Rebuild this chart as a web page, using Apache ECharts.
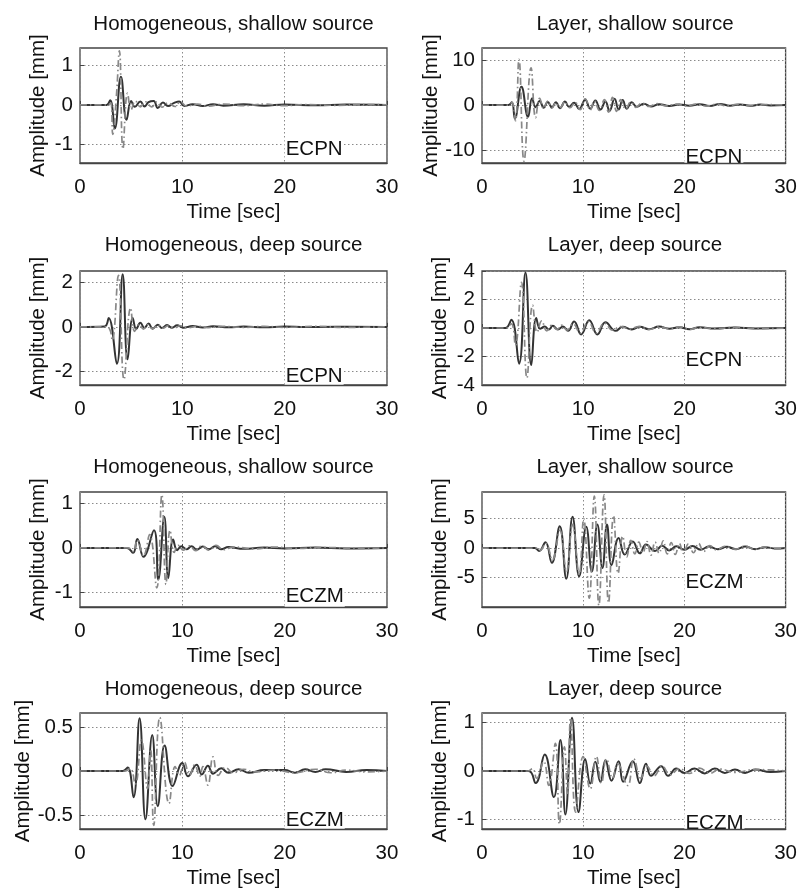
<!DOCTYPE html>
<html><head><meta charset="utf-8">
<script src="https://cdn.jsdelivr.net/npm/echarts@6/dist/echarts.min.js"></script>
<style>html,body{margin:0;padding:0;background:#fff}#c{width:800px;height:890px}</style>
</head><body><div id="c"></div>
<script>
// ---------- data ----------
const titles = [
  'Homogeneous, shallow source', 'Layer, shallow source',
  'Homogeneous, deep source', 'Layer, deep source',
  'Homogeneous, shallow source', 'Layer, shallow source',
  'Homogeneous, deep source', 'Layer, deep source'
];
const stationNames = ['ECPN','ECPN','ECPN','ECPN','ECZM','ECZM','ECZM','ECZM'];
const stationLabelAt = [[20,-1.12],[20,-11.6],[20,-2.2],[20,-2.3],[20,-1.1],[20,-5.9],[20,-0.56],[20,-1.08]];
const yMins = [-1.48, -12.9, -2.6, -4, -1.33, -10, -0.66, -1.2];
const yMaxs = [1.45, 12.7, 2.5, 4, 1.26, 9.5, 0.66, 1.2];
const yTickValues = [[-1,0,1],[-10,0,10],[-2,0,2],[-4,-2,0,2,4],[-1,0,1],[-5,0,5],[-0.5,0,0.5],[-1,0,1]];

const p1Solid = [[0,0],[2.6,0],[2.95,0.12],[3.4,-0.6],[4.0,0.72],[4.55,-0.38],[5.0,0.1],[5.35,-0.05],[5.9,0.09],[6.3,-0.04],[6.7,0.07],[7.2,0.1],[7.6,-0.08],[8.1,0.06],[8.6,-0.03],[9.2,0.05],[9.7,0.09],[10.2,-0.03],[11,0.02],[12,-0.03],[13,0.02],[14,-0.02],[16,0.02],[18,-0.02],[20,0.01],[23,-0.01],[26,0.01],[30,0]];
const p1Dash = [[0,0],[2.7,0],[3.0,0.05],[3.2,-0.75],[3.55,0.2],[3.85,1.38],[4.2,-1.12],[4.65,0.3],[5.0,-0.12],[5.4,0.1],[5.9,-0.05],[6.4,0.08],[7.0,-0.05],[7.5,0.08],[8.0,-0.06],[8.6,0.05],[9.3,-0.04],[9.8,0.08],[10.4,-0.03],[11.5,0.02],[12.5,-0.03],[14,0.02],[16,-0.02],[18,0.02],[20,-0.02],[22,0.01],[25,-0.01],[28,0.01],[30,0]];

const p2Solid = [[0,0],[2.6,0],[2.95,0.6],[3.25,-3.0],[3.9,4.1],[4.55,-2.6],[4.95,1.5],[5.3,-0.5],[5.7,0.9],[6.1,-0.6],[6.5,0.7],[6.9,-0.5],[7.3,0.6],[7.7,-0.7],[8.2,0.8],[8.6,-0.4],[9.1,0.5],[9.6,-0.9],[10.2,1.2],[10.7,-0.8],[11.2,1.0],[11.7,-1.0],[12.2,0.8],[12.6,-1.3],[13.1,1.4],[13.5,-1.0],[13.9,1.1],[14.3,-0.8],[14.8,0.6],[15.3,-0.4],[16,0.3],[16.7,-0.3],[17.5,0.2],[18.5,-0.2],[19.5,0.15],[20.5,-0.15],[21.5,0.2],[22.5,-0.2],[23.5,0.25],[24.5,-0.15],[25.5,0.15],[26.5,-0.15],[27.5,0.1],[28.5,-0.1],[30,0]];
const p2Dash = [[0,0],[2.6,0],[2.95,0.6],[3.3,-3.5],[3.65,10.2],[4.15,-12.5],[4.85,8.3],[5.3,-2.8],[5.7,1.5],[6.1,-0.8],[6.5,0.9],[6.9,-0.7],[7.3,0.5],[7.7,-0.6],[8.2,0.7],[8.7,-0.6],[9.2,0.6],[9.7,-1.0],[10.2,1.4],[10.7,-1.1],[11.1,0.9],[11.6,-1.2],[12.1,1.2],[12.5,-1.6],[12.9,1.7],[13.3,-1.4],[13.7,1.2],[14.2,-0.9],[14.7,0.7],[15.2,-0.5],[15.8,0.4],[16.5,-0.3],[17.3,0.3],[18.2,-0.2],[19.2,0.2],[20.2,-0.2],[21.2,0.2],[22.2,-0.25],[23.2,0.2],[24.2,-0.2],[25.2,0.15],[26.5,-0.1],[28,0.1],[30,0]];

const p3Solid = [[0,0],[2.4,0.02],[2.8,0.4],[3.6,-1.65],[4.17,2.35],[4.65,-1.45],[5.15,0.4],[5.5,-0.1],[5.9,0.18],[6.3,-0.05],[6.7,0.15],[7.1,-0.08],[7.6,0.1],[8.0,-0.05],[8.5,0.08],[9.0,-0.04],[9.5,0.07],[10.1,-0.04],[11,0.04],[12,-0.03],[13,0.03],[14.5,-0.02],[16,0.02],[18,-0.02],[20,0.02],[22,-0.01],[25,0.01],[30,0]];
const p3Dash = [[0,0],[2.5,0],[2.9,-0.1],[3.15,-0.6],[3.75,2.3],[4.3,-2.35],[4.95,0.85],[5.35,-0.2],[5.8,0.12],[6.2,-0.1],[6.6,0.1],[7.1,-0.08],[7.6,0.08],[8.1,-0.06],[8.6,0.05],[9.2,-0.05],[9.8,0.05],[10.5,-0.04],[11.5,0.03],[12.5,-0.03],[14,0.02],[16,-0.02],[18,0.02],[20,-0.02],[23,0.02],[26,-0.02],[30,0]];

const p4Solid = [[0,0],[2.3,0],[2.9,0.58],[3.66,-2.5],[4.3,3.9],[4.87,-2.6],[5.36,0.7],[5.75,-0.05],[6.2,0.1],[6.6,-0.1],[7.0,0.15],[7.5,-0.1],[8.0,0.1],[8.5,-0.2],[9.1,0.45],[9.8,-0.45],[10.6,0.55],[11.4,-0.45],[12.2,0.4],[13.2,-0.2],[13.9,0.08],[14.8,-0.1],[15.6,0.08],[16.5,-0.08],[17.5,0.1],[18.5,-0.05],[19.5,0.05],[20.5,-0.08],[21.5,0.05],[23,-0.04],[25,0.03],[27,-0.03],[30,0]];
const p4Dash = [[0,0],[2.4,0],[2.9,0.3],[3.3,-1.2],[3.9,3.2],[4.44,-3.5],[5.0,1.6],[5.45,-0.3],[5.9,0.5],[6.4,-0.2],[6.9,0.2],[7.4,-0.1],[7.9,0.2],[8.4,-0.15],[9.0,0.3],[9.7,-0.35],[10.5,0.45],[11.3,-0.35],[12.1,0.35],[12.9,-0.15],[13.7,0.1],[14.6,-0.08],[15.5,0.1],[16.5,-0.1],[17.5,0.08],[18.5,-0.05],[19.5,0.08],[20.5,-0.1],[21.5,0.05],[23,-0.05],[25,0.04],[27,-0.04],[30,0]];

const p5Solid = [[0,0],[4.6,0],[5.2,-0.11],[5.6,0.2],[6.2,-0.2],[7.23,0.4],[7.65,-0.71],[8.24,0.7],[8.63,-0.68],[9.1,0.19],[9.5,-0.05],[9.9,0.04],[10.4,-0.03],[10.9,0.04],[11.4,-0.04],[12,0.03],[12.6,-0.03],[13.2,0.04],[13.8,-0.03],[14.5,0.02],[16,-0.02],[18,0.01],[20,-0.01],[23,0.01],[26,-0.01],[30,0]];
const p5Dash = [[0,0],[4.7,0],[5.2,-0.08],[5.6,0.18],[6.2,-0.18],[6.8,0.3],[7.5,-0.9],[8.0,1.2],[8.4,-0.82],[8.8,0.4],[9.2,-0.1],[9.6,0.06],[10.1,-0.05],[10.7,0.05],[11.3,-0.06],[11.9,0.05],[12.6,-0.05],[13.3,0.06],[14,-0.04],[15,0.02],[17,-0.02],[19,0.02],[21,-0.01],[24,0.01],[27,-0.01],[30,0]];

const p6Solid = [[0,0],[5.2,0],[5.65,-0.5],[6.27,1.0],[6.9,-2.5],[7.68,3.7],[8.33,-5.2],[8.95,5.3],[9.6,-4.8],[10.3,3.6],[10.85,-4.0],[11.4,4.0],[11.9,-3.4],[12.35,4.0],[12.8,-2.9],[13.5,1.7],[14.1,-1.1],[14.9,1.1],[15.6,-0.9],[16.2,0.6],[17.1,-0.5],[17.8,0.4],[18.5,-0.4],[19.2,0.3],[20,-0.3],[20.8,0.35],[21.6,-0.3],[22.4,0.25],[23.3,-0.2],[24.2,0.2],[25.1,-0.2],[26,0.25],[27,-0.2],[28,0.15],[29,-0.1],[30,0]];
const p6Dash = [[0,0],[5.3,0],[5.7,-0.4],[6.3,0.8],[6.95,-2.0],[7.7,3.0],[8.35,-4.0],[8.95,4.0],[9.6,-4.5],[10.05,5.0],[10.6,-8.5],[11.1,8.8],[11.55,-9.7],[12.06,9.0],[12.5,-9.3],[13.0,5.5],[13.45,-4.3],[13.9,2.0],[14.3,-1.5],[14.7,1.3],[15.1,-1.0],[15.5,1.0],[15.9,-0.8],[16.3,1.1],[16.7,-1.2],[17.1,1.0],[17.5,-0.9],[17.9,1.2],[18.3,-1.0],[18.7,0.9],[19.1,-1.1],[19.5,0.8],[19.9,-0.9],[20.4,0.7],[20.9,-0.8],[21.4,0.8],[21.9,-0.6],[22.5,0.4],[23.2,-0.3],[24,0.3],[25,-0.2],[26,0.3],[27,-0.2],[28,0.2],[29,-0.15],[30,0]];

const p7Solid = [[0,0],[4.2,0],[4.67,0.04],[5.23,-0.3],[5.82,0.6],[6.4,-0.55],[7.06,0.41],[7.6,-0.4],[8.27,0.29],[9.05,-0.17],[10.0,0.09],[10.55,-0.06],[11.4,0.07],[11.9,-0.04],[12.5,0.06],[13.0,-0.03],[13.8,0.03],[14.5,-0.02],[15.5,0.02],[16.5,-0.02],[18,0.01],[20,0.01],[21,-0.02],[22,0.02],[23,-0.01],[24,0.02],[26,-0.01],[28,0.01],[30,0]];
const p7Dash = [[0,0],[4.4,0],[4.9,0.03],[5.4,-0.15],[6.0,0.35],[6.6,-0.2],[6.9,0.25],[7.2,-0.62],[7.8,0.61],[8.7,-0.37],[9.3,0.05],[9.7,-0.05],[10.2,0.1],[10.7,-0.05],[11.2,0.07],[11.7,-0.06],[12.0,0.05],[12.5,-0.16],[13.0,0.16],[13.5,-0.05],[14.2,0.04],[15,-0.02],[16,0.02],[17,-0.01],[19,0.01],[21,-0.02],[23,0.02],[24.5,-0.02],[26,0.01],[28,-0.01],[30,0]];

const p8Solid = [[0,0],[4.6,0],[5.3,-0.25],[6.2,0.34],[7.1,-0.54],[7.75,0.64],[8.24,-0.9],[8.9,1.1],[9.54,-0.85],[10.2,0.25],[10.7,-0.26],[11.2,0.19],[11.7,-0.23],[12.2,0.22],[12.8,-0.2],[13.5,0.2],[13.95,-0.22],[14.9,0.2],[15.6,-0.25],[16.2,0.15],[16.7,-0.1],[17.7,0.1],[18.4,-0.1],[19.2,0.05],[20,-0.04],[21,0.05],[22,-0.05],[23,0.05],[24,-0.04],[25,0.03],[26,-0.04],[27,0.03],[28.5,-0.02],[30,0]];
const p8Dash = [[0,0],[4.5,0],[5.0,0.05],[5.4,-0.15],[6.1,0.2],[6.6,-0.3],[7.25,0.57],[7.65,-1.1],[8.15,0.5],[8.45,-0.5],[8.75,1.1],[9.25,-0.85],[10.0,0.3],[10.7,-0.37],[11.3,0.3],[11.8,-0.25],[12.3,0.25],[12.9,-0.15],[13.4,0.15],[14.4,-0.3],[15.0,0.25],[15.7,-0.15],[16.3,0.1],[17,-0.1],[17.8,0.1],[18.6,-0.08],[19.5,0.05],[20.5,-0.05],[21.5,0.06],[22.5,-0.05],[23.5,0.04],[25,-0.03],[27,0.03],[30,0]];

const solidTraces = [p1Solid,p2Solid,p3Solid,p4Solid,p5Solid,p6Solid,p7Solid,p8Solid];
const dashTraces = [p1Dash,p2Dash,p3Dash,p4Dash,p5Dash,p6Dash,p7Dash,p8Dash];

// ---------- layout ----------
const colLeft = [80, 482];
const colWidth = [307, 306];
const rowTop = [48, 271, 492, 713];
const rowHeight = [115, 114, 115, 116];
const titleTop = [14, 235, 457, 679];
const FONT = "'Liberation Sans', Arial, Helvetica, sans-serif";
const TXT = '#111';
const FS = 20.5;
const FRAME = '#444';

const grid = [], xAxis = [], yAxis = [], series = [], title = [];
for (let i = 0; i < 8; i++) {
  const r = Math.floor(i / 2), c = i % 2;
  grid.push({left: colLeft[c], top: rowTop[r], width: colWidth[c], height: rowHeight[r],
    show: true, borderColor: FRAME, borderWidth: 1.3, backgroundColor: '#fff'});
  title.push({text: titles[i], left: colLeft[c] + colWidth[c] / 2, top: titleTop[r], textAlign: 'center', padding: 0,
    textStyle: {fontFamily: FONT, fontSize: FS, fontWeight: 'normal', color: TXT}});
  yAxis.push({type: 'value', gridIndex: i, min: yMins[i], max: yMaxs[i],
    name: 'Amplitude [mm]', nameLocation: 'middle', nameGap: 31, nameRotate: 90,
    nameTextStyle: {fontFamily: FONT, fontSize: FS, color: TXT},
    axisLine: {show: false},
    axisTick: {show: true, inside: true, length: 4, customValues: yTickValues[i], lineStyle: {color: FRAME}},
    axisLabel: {fontFamily: FONT, fontSize: FS, color: TXT, margin: 7, customValues: yTickValues[i]},
    splitLine: {show: true, lineStyle: {type: [1.5, 2.5], color: '#8a8a8a', width: 1}}});
}
for (let i = 0; i < 8; i++) {
  xAxis.push({type: 'value', gridIndex: i, min: 0, max: 30, interval: 10, position: 'bottom',
    name: 'Time [sec]', nameLocation: 'middle', nameGap: 39,
    nameTextStyle: {fontFamily: FONT, fontSize: FS, color: TXT},
    axisLine: {show: false},
    axisTick: {show: true, inside: true, length: 4, lineStyle: {color: FRAME}},
    axisLabel: {fontFamily: FONT, fontSize: FS, color: TXT, margin: 14},
    splitLine: {show: true, lineStyle: {type: [1.5, 2.5], color: '#8a8a8a', width: 1}}});
}
// frame-only bottom axes drawn above the station labels
for (let i = 0; i < 8; i++) {
  xAxis.push({type: 'value', gridIndex: i, min: 0, max: 30, position: 'bottom', offset: 0, z: 20,
    axisLine: {show: true, onZero: false, lineStyle: {color: FRAME, width: 1.3}},
    axisTick: {show: false}, axisLabel: {show: false}, splitLine: {show: false}});
}
for (let i = 0; i < 8; i++) {
  series.push({type: 'line', xAxisIndex: i, yAxisIndex: i, data: solidTraces[i], showSymbol: false, symbol: 'none',
    smooth: 0.45, lineStyle: {color: '#333', width: 2}, z: 3, silent: true});
  series.push({type: 'line', xAxisIndex: i, yAxisIndex: i, data: dashTraces[i], showSymbol: false, symbol: 'none',
    smooth: 0.45, lineStyle: {color: '#888', width: 1.7, type: [7, 3, 1.5, 3]}, z: 4, silent: true});
  series.push({type: 'scatter', xAxisIndex: i, yAxisIndex: i, data: [stationLabelAt[i]], symbolSize: 0,
    itemStyle: {color: '#fff', opacity: 1}, z: 6, silent: true,
    label: {show: true, position: 'right', distance: 0, formatter: stationNames[i], opacity: 1,
      fontFamily: FONT, fontSize: FS, color: '#111', backgroundColor: '#fff', padding: [1, 1, 0, 1]}});
}

const chart = echarts.init(document.getElementById('c'), null, {renderer: 'canvas'});
chart.setOption({animation: false, backgroundColor: '#fff', title, grid, xAxis, yAxis, series});
</script>
</body></html>
